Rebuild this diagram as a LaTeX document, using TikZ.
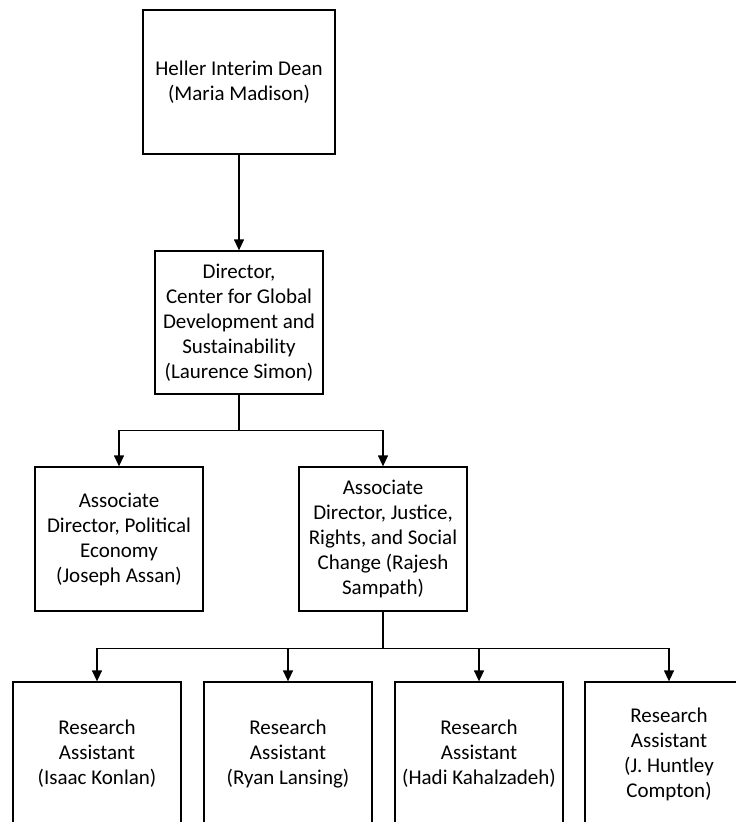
\documentclass[tikz,border=0pt]{standalone}
\usepackage{fontspec}
\setmainfont{Carlito}
\usetikzlibrary{arrows.meta}

\begin{document}
\begin{tikzpicture}[x=1pt,y=-1pt,
  box/.style={draw,line width=1.3pt,align=center,minimum width=168pt,minimum height=144pt,inner sep=1pt,
    font=\fontsize{21}{25}\selectfont},
  conn/.style={line width=1.3pt},
  >={Triangle[width=10pt,length=11pt]}]
\clip (0,0) rectangle (736,822);

\node [box,minimum width=192pt] (dean) at (239,82) {Heller Interim Dean\\(Maria Madison)};
\node [box,minimum height=143pt] (dir) at (239,322.5) {Director,\\Center for Global\\Development and\\Sustainability\\(Laurence Simon)};

\node [box] (polecon) at (119,539) {Associate\\Director, Political\\Economy\\(Joseph Assan)};
\node [box] (justice) at (383,539) {Associate\\Director, Justice,\\Rights, and Social\\Change (Rajesh\\Sampath)};

\node [box] (ra1) at (97,754) {Research\\Assistant\\(Isaac Konlan)};
\node [box] (ra2) at (288,754) {Research\\Assistant\\(Ryan Lansing)};
\node [box] (ra3) at (479,754) {Research\\Assistant\\(Hadi Kahalzadeh)};
\node [box] (ra4) at (669,754) {Research\\Assistant\\(J. Huntley\\Compton)};

\draw [conn,->] (dean) -- (dir);

\draw [conn,->] (dir.south) -- ++(0,36) -| (polecon.north);
\draw [conn,->] (dir.south) -- ++(0,36) -| (justice.north);

% split below justice
\draw [conn,->] (justice.south) -- ++(0,37) -| (ra1.north);
\draw [conn,->] (justice.south) -- ++(0,37) -| (ra2.north);
\draw [conn,->] (justice.south) -- ++(0,37) -| (ra3.north);
\draw [conn,->] (justice.south) -- ++(0,37) -| (ra4.north);

\end{tikzpicture}
\end{document}
